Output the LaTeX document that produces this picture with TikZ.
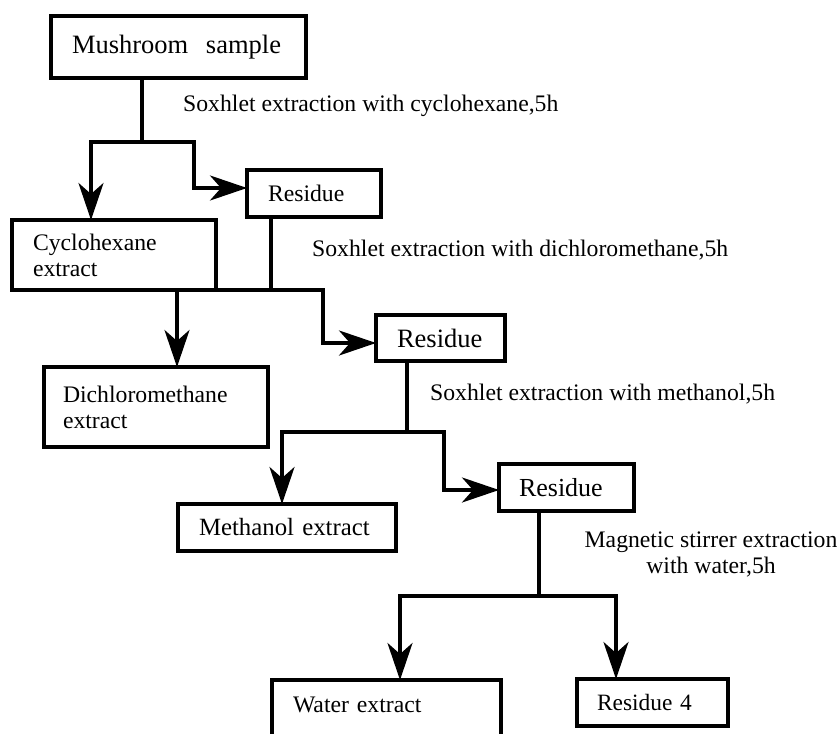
\documentclass[tikz,border=0pt]{standalone}
\usepackage{fontspec}
\setmainfont{Liberation Serif}
\usetikzlibrary{arrows.meta}
\newcommand\fsz[1]{\fontsize{#1pt}{26pt}\selectfont}

\begin{document}
\begin{tikzpicture}[
  x=1pt,y=-1pt,
  box/.style={draw,line width=3.6pt,anchor=north west,align=left,outer sep=0pt,
              inner ysep=0pt,inner xsep=21pt,font=\fsz{23.7}},
  note/.style={anchor=base west,inner sep=0pt,font=\fsz{23.7}},
  link/.style={line width=3.6pt},
  edge/.style={link,-{Stealth[length=37pt,width=25pt,inset=11pt]}}
]
  \useasboundingbox (0,0) rectangle (840,733);

  % extraction steps
  \node[box,minimum width=255pt,minimum height=62pt,text width=213pt,font=\fsz{26.5}]
    (sample) at (51,16) {Mushroom\ \ sample};
  \node[box,minimum width=134pt,minimum height=47pt,text width=92pt]
    (res1) at (247,170) {Residue};
  \node[box,minimum width=204pt,minimum height=70pt,text width=162pt]
    (cyc) at (12,220) {Cyclohexane\\extract};
  \node[box,minimum width=224pt,minimum height=80pt,text width=186pt,inner xsep=19pt]
    (dcm) at (44,367) {Dichloromethane\\extract};
  \node[box,minimum width=129pt,minimum height=46pt,text width=87pt,font=\fsz{26.5}]
    (res2) at (376,315) {Residue};
  \node[box,minimum width=218pt,minimum height=47pt,text width=176pt,font=\fsz{24.8}]
    (meth) at (178,504) {Methanol extract};
  \node[box,minimum width=135pt,minimum height=47pt,text width=95pt,inner xsep=20pt,font=\fsz{26}]
    (res3) at (499,464) {Residue};
  \node[box,text width=187pt,inner ysep=8pt,text height=24pt,text depth=50pt]
    (water) at (272,680) {Water extract};
  \node[box,minimum width=151pt,minimum height=47pt,text width=111pt,inner xsep=20pt,font=\fsz{23.4}]
    (res4) at (577,679) {Residue 4};

  % conditions
  \node[note] (lab1) at (183,112) {Soxhlet extraction with cyclohexane,5h};
  \node[note] (lab2) at (312,256) {Soxhlet extraction with dichloromethane,5h};
  \node[note] (lab3) at (430,400) {Soxhlet extraction with methanol,5h};
  \node[note,anchor=north,align=center] (lab4) at (711,532)
    {Magnetic stirrer extraction\\with water,5h};

  % split points
  \coordinate (j1) at (142,142);
  \coordinate (c1l) at (91,142);
  \coordinate (c1r) at (194,142);
  \coordinate (j2) at (271,290);
  \coordinate (c2l) at (177,290);
  \coordinate (c2r) at (323,290);
  \coordinate (j3) at (407,432);
  \coordinate (c3l) at (282,432);
  \coordinate (c3r) at (444,432);
  \coordinate (j4) at (539,596);
  \coordinate (c4l) at (400,596);
  \coordinate (c4r) at (616,596);

  \draw[link] (j1 |- sample.south) -- (j1);
  \draw[edge] (j1) -- (c1l) -- (c1l |- cyc.north);
  \draw[edge] (j1) -- (c1r) |- ([yshift=5.5pt]res1.west);

  \draw[link] (j2 |- res1.south) -- (j2);
  \draw[edge] (j2) -- (c2l) -- (c2l |- dcm.north);
  \draw[edge] (j2) -- (c2r) |- ([yshift=-5pt]res2.west);

  \draw[link] (j3 |- res2.south) -- (j3);
  \draw[edge] (j3) -- (c3l) -- (c3l |- meth.north);
  \draw[edge] (j3) -- (c3r) |- ([yshift=-2.5pt]res3.west);

  \draw[link] (j4 |- res3.south) -- (j4);
  \draw[edge] (j4) -- (c4l) -- (c4l |- water.north);
  \draw[edge] (j4) -- (c4r) -- (c4r |- res4.north);
\end{tikzpicture}
\end{document}
